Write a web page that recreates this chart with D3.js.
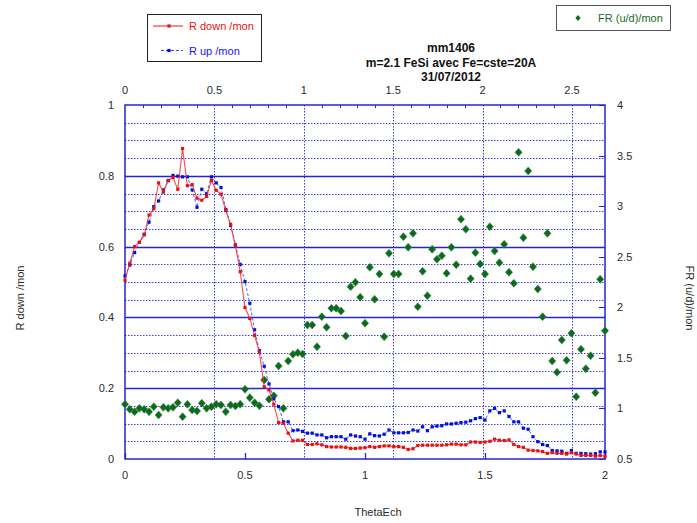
<!DOCTYPE html>
<html>
<head>
<meta charset="utf-8">
<script src="https://cdn.jsdelivr.net/npm/d3@7"></script>
<style>
  body { margin: 0; background: #fff; }
  svg { display: block; font-family: "Liberation Sans", Arial, sans-serif; }
</style>
</head>
<body>
<svg id="chart" width="697" height="523"></svg>
<script>
// ThetaEch sampling (bottom axis)
const thetaEch = [
  0.00,0.02,0.04,0.06,0.08,0.10,0.12,0.14,0.16,0.18,
  0.20,0.22,0.24,0.26,0.28,0.30,0.32,0.34,0.36,0.38,
  0.40,0.42,0.44,0.46,0.48,0.50,0.52,0.54,0.56,0.58,
  0.60,0.62,0.64,0.66,0.68,0.70,0.72,0.74,0.76,0.78,
  0.80,0.82,0.84,0.86,0.88,0.90,0.92,0.94,0.96,0.98,
  1.00,1.02,1.04,1.06,1.08,1.10,1.12,1.14,1.16,1.18,
  1.20,1.22,1.24,1.26,1.28,1.30,1.32,1.34,1.36,1.38,
  1.40,1.42,1.44,1.46,1.48,1.50,1.52,1.54,1.56,1.58,
  1.60,1.62,1.64,1.66,1.68,1.70,1.72,1.74,1.76,1.78,
  1.80,1.82,1.84,1.86,1.88,1.90,1.92,1.94,1.96,1.98,
  2.00
];

// Reflectivity, spin down / monitor (left axis)
const rDown = [
  0.505,0.553,0.600,0.612,0.633,0.689,0.707,0.780,0.754,0.787,
  0.795,0.762,0.877,0.772,0.775,0.737,0.731,0.742,0.787,0.759,
  0.748,0.702,0.663,0.603,0.529,0.428,0.397,0.349,0.302,0.204,
  0.195,0.155,0.103,0.101,0.073,0.051,0.053,0.053,0.041,0.041,
  0.043,0.040,0.035,0.034,0.034,0.034,0.033,0.030,0.030,0.031,
  0.032,0.035,0.033,0.035,0.037,0.037,0.035,0.035,0.033,0.027,
  0.029,0.038,0.039,0.039,0.039,0.039,0.039,0.040,0.042,0.042,
  0.040,0.040,0.048,0.048,0.047,0.048,0.050,0.056,0.053,0.052,
  0.054,0.041,0.035,0.033,0.025,0.024,0.023,0.021,0.016,0.018,
  0.016,0.016,0.014,0.018,0.014,0.010,0.010,0.010,0.008,0.010,
  0.008
];

// Reflectivity, spin up / monitor (left axis)
const rUp = [
  0.517,0.548,0.583,0.612,0.635,0.669,0.713,0.729,0.760,0.786,
  0.801,0.799,0.797,0.797,0.760,0.711,0.762,0.749,0.797,0.780,
  0.767,0.705,0.660,0.605,0.550,0.501,0.440,0.365,0.306,0.262,
  0.212,0.170,0.148,0.105,0.105,0.080,0.082,0.078,0.073,0.073,
  0.068,0.068,0.060,0.063,0.063,0.063,0.056,0.068,0.065,0.063,
  0.056,0.071,0.066,0.065,0.070,0.082,0.074,0.074,0.074,0.075,
  0.082,0.079,0.091,0.080,0.091,0.093,0.094,0.099,0.099,0.101,
  0.103,0.104,0.108,0.114,0.117,0.110,0.136,0.143,0.131,0.136,
  0.120,0.105,0.105,0.087,0.084,0.063,0.049,0.041,0.038,0.024,
  0.023,0.022,0.016,0.024,0.016,0.016,0.015,0.014,0.015,0.020,
  0.020
];

// Flipping ratio (u/d) / monitor (right axis)
const flipRatio = [
  1.041,0.991,0.968,1.001,0.991,0.968,1.017,0.935,1.011,1.001,
  1.011,1.057,0.918,1.041,0.984,0.975,1.051,1.001,1.017,1.041,
  1.034,0.968,1.034,1.024,1.041,1.189,1.106,1.057,1.027,1.281,
  1.090,1.126,1.420,1.001,1.469,1.535,1.551,1.538,1.825,1.825,
  1.610,1.907,1.802,1.990,1.990,1.963,1.716,2.204,2.247,2.099,
  1.842,2.395,2.079,2.329,1.709,2.534,2.329,2.329,2.698,2.593,
  2.731,2.006,2.356,2.115,2.573,2.474,2.510,2.336,2.593,2.421,
  2.870,2.771,2.283,2.540,2.428,2.329,2.797,2.557,2.441,2.623,
  2.346,2.237,3.532,2.688,3.348,2.401,2.181,1.907,2.731,1.469,
  1.357,1.677,1.476,1.743,1.116,1.585,1.393,1.521,1.156,2.277,
  1.769
];

// Axis tick labels
const bottomTicks = [0, 0.5, 1, 1.5, 2];
const topTicks = [0, 0.5, 1, 1.5, 2, 2.5];
const leftTicks = [0, 0.2, 0.4, 0.6, 0.8, 1];
const rightTicks = [0.5, 1, 1.5, 2, 2.5, 3, 3.5, 4];

const titleLines = ["mm1406", "m=2.1 FeSi avec Fe=cste=20A", "31/07/2012"];

const svg = d3.select("#chart");
const L = 125, R = 605, T = 105, B = 459;
const frameBlue = "#2424d4";
const gridBlue = "#3c3ce6";
const textCol = "#2a2a2a";

const x = d3.scaleLinear().domain([0, 2]).range([L, R]);
const xTop = d3.scaleLinear().domain([0, 2.685]).range([L, R]);
const yL = d3.scaleLinear().domain([0, 1]).range([B, T]);
const yR = d3.scaleLinear().domain([0.5, 4]).range([B, T]);

const grid = svg.append("g");
// horizontal dotted minor grid every 0.05, solid every 0.2
d3.range(1, 20).forEach(k => {
  const v = k * 0.05;
  const major = k % 4 === 0;
  grid.append("line")
    .attr("x1", L).attr("x2", R)
    .attr("y1", Math.round(yL(v)) + 0.5).attr("y2", Math.round(yL(v)) + 0.5)
    .attr("stroke", major ? frameBlue : gridBlue)
    .attr("stroke-width", major ? 1.3 : 1)
    .attr("stroke-dasharray", major ? null : "1.5,1.5");
});
// vertical dotted grid at top-axis majors
topTicks.filter(t => t > 0).forEach(t => {
  grid.append("line")
    .attr("x1", Math.round(xTop(t)) + 0.5).attr("x2", Math.round(xTop(t)) + 0.5)
    .attr("y1", T).attr("y2", B)
    .attr("stroke", gridBlue).attr("stroke-dasharray", "1.5,1.5");
});

// top minor ticks every 0.1
d3.range(1, 27).forEach(k => {
  const v = k * 0.1;
  if (k % 5 === 0) return;
  grid.append("line")
    .attr("x1", Math.round(xTop(v)) + 0.5).attr("x2", Math.round(xTop(v)) + 0.5)
    .attr("y1", T).attr("y2", T + 3)
    .attr("stroke", frameBlue);
});
// right axis ticks (inward)
rightTicks.forEach(t => {
  grid.append("line")
    .attr("x1", R - 6).attr("x2", R)
    .attr("y1", Math.round(yR(t)) + 0.5).attr("y2", Math.round(yR(t)) + 0.5)
    .attr("stroke", frameBlue);
});
// bottom axis ticks (inward)
bottomTicks.forEach(t => {
  grid.append("line")
    .attr("x1", Math.round(x(t)) + 0.5).attr("x2", Math.round(x(t)) + 0.5)
    .attr("y1", B - 6).attr("y2", B)
    .attr("stroke", frameBlue).attr("stroke-width", 1.3);
});

// plot frame
svg.append("rect")
  .attr("x", L).attr("y", T).attr("width", R - L).attr("height", B - T)
  .attr("fill", "none").attr("stroke", frameBlue).attr("stroke-width", 1.5);

// tick labels
const lab = svg.append("g").attr("font-size", 11).attr("fill", textCol);
bottomTicks.forEach(t => lab.append("text").attr("x", x(t)).attr("y", 479)
  .attr("text-anchor", "middle").text(t));
topTicks.forEach(t => lab.append("text").attr("x", xTop(t)).attr("y", 94)
  .attr("text-anchor", "middle").text(t));
leftTicks.forEach(t => lab.append("text").attr("x", 114).attr("y", yL(t) + 4)
  .attr("text-anchor", "end").text(t));
rightTicks.forEach(t => lab.append("text").attr("x", 617).attr("y", yR(t) + 4)
  .attr("text-anchor", "start").text(t));

// axis titles
lab.append("text").attr("x", 378).attr("y", 516).attr("text-anchor", "middle").text("ThetaEch");
lab.append("text").attr("transform", "translate(24,298) rotate(-90)")
  .attr("text-anchor", "middle").text("R down /mon");
lab.append("text").attr("transform", "translate(686,298) rotate(90)")
  .attr("text-anchor", "middle").text("FR (u/d)/mon");

// title
const title = svg.append("g").attr("font-size", 12).attr("font-weight", "bold").attr("fill", "#111");
titleLines.forEach((s, i) => title.append("text")
  .attr("x", 451).attr("y", 52 + i * 14.5).attr("text-anchor", "middle").text(s));

// flipping ratio diamonds (right axis)
const diamond = "M0,-4L3.6,0L0,4L-3.6,0Z";
svg.append("g").selectAll("path").data(flipRatio).join("path")
  .attr("d", diamond)
  .attr("transform", (d, i) => `translate(${x(thetaEch[i])},${yR(d)})`)
  .attr("fill", "#0d6a1d").attr("stroke", "#3f8c4c").attr("stroke-width", 0.6);

// reflectivity curves
const downPts = thetaEch.map((t, i) => [t, rDown[i]]);
const upPts = thetaEch.map((t, i) => [t, rUp[i]]);
const line = d3.line().x(d => x(d[0])).y(d => yL(d[1]));

svg.append("path").datum(upPts).attr("d", line)
  .attr("fill", "none").attr("stroke", "#3344ff").attr("stroke-width", 1)
  .attr("stroke-dasharray", "3,2").attr("opacity", 0.85);
svg.append("g").selectAll("rect").data(upPts).join("rect")
  .attr("x", d => x(d[0]) - 1.6).attr("y", d => yL(d[1]) - 1.6)
  .attr("width", 3.2).attr("height", 3.2).attr("fill", "#0010e0");

svg.append("path").datum(downPts).attr("d", line)
  .attr("fill", "none").attr("stroke", "#f22a2a").attr("stroke-width", 1.1).attr("opacity", 0.85);
svg.append("g").selectAll("rect").data(downPts).join("rect")
  .attr("x", d => x(d[0]) - 1.6).attr("y", d => yL(d[1]) - 1.6)
  .attr("width", 3.2).attr("height", 3.2).attr("fill", "#e81010");

// legend for R curves
const lg = svg.append("g");
lg.append("rect").attr("x", 147.5).attr("y", 14.5).attr("width", 114).attr("height", 47)
  .attr("fill", "#fff").attr("stroke", "#222").attr("stroke-width", 1);
lg.append("line").attr("x1", 153).attr("x2", 183).attr("y1", 26).attr("y2", 26)
  .attr("stroke", "#f22a2a").attr("stroke-width", 1.1);
lg.append("rect").attr("x", 167.4).attr("y", 24.4).attr("width", 3.2).attr("height", 3.2).attr("fill", "#e81010");
lg.append("text").attr("x", 189).attr("y", 30).attr("font-size", 11).attr("fill", "#ee1111").text("R down /mon");
lg.append("line").attr("x1", 161).attr("x2", 183).attr("y1", 50.5).attr("y2", 50.5)
  .attr("stroke", "#3344ff").attr("stroke-width", 1).attr("stroke-dasharray", "3,2");
lg.append("rect").attr("x", 167.4).attr("y", 48.9).attr("width", 3.2).attr("height", 3.2).attr("fill", "#0010e0");
lg.append("text").attr("x", 189).attr("y", 55).attr("font-size", 11).attr("fill", "#1515ee").text("R up /mon");

// legend for flipping ratio
const lg2 = svg.append("g");
lg2.append("rect").attr("x", 556.5).attr("y", 5.5).attr("width", 114).attr("height", 25)
  .attr("fill", "#fff").attr("stroke", "#555").attr("stroke-width", 1);
lg2.append("path").attr("d", "M0,-3L2.6,0L0,3L-2.6,0Z").attr("transform", "translate(578,18)")
  .attr("fill", "#0d6a1d");
lg2.append("text").attr("x", 598).attr("y", 22).attr("font-size", 11).attr("fill", "#1a6a2a").text("FR (u/d)/mon");
</script>
</body>
</html>
